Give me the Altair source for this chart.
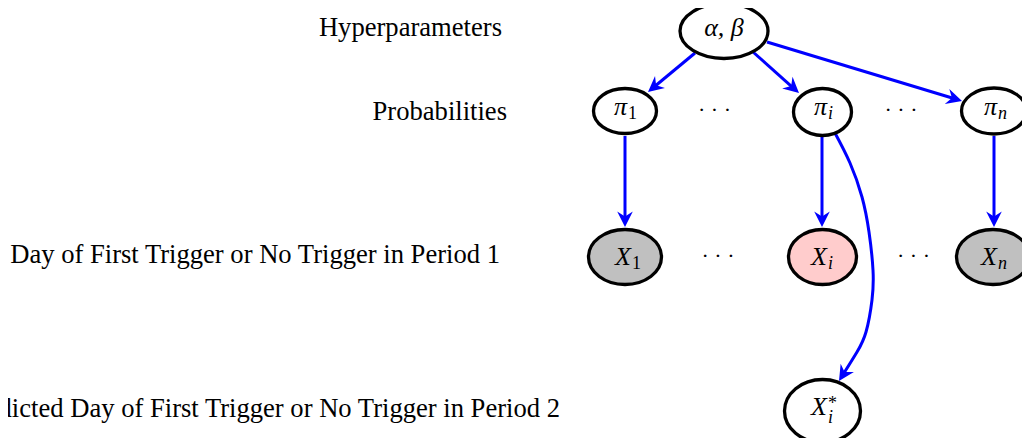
import math
import altair as alt
import pandas as pd

# ---------------- data ----------------
level_labels = [
    "Hyperparameters",
    "Probabilities",
    "Day of First Trigger or No Trigger in Period 1",
    "Predicted Day of First Trigger or No Trigger in Period 2",
]
level_right = [502, 507, 500, 560]
level_base = [36, 120, 263, 417]

node_ids = ["ab", "pi1", "pii", "pin", "X1", "Xi", "Xn", "Xis"]
node_main = ["α, β", "π", "π", "π", "X", "X", "X", "X"]
node_sub = ["", "1", "i", "n", "1", "i", "n", "i"]
node_sup = ["", "", "", "", "", "", "", "*"]
node_fill = ["white", "white", "white", "white", "#c0c0c0", "#ffcccc", "#c0c0c0", "white"]

# layout (image pixel coordinates)
node_cx = [724, 625, 822.5, 994, 625, 822.5, 993, 822.5]
node_cy = [31, 111, 112, 111, 257, 257, 257, 411]
node_rx = [44, 31.5, 29, 32.5, 36.5, 34, 36.5, 38]
node_ry = [27.5, 22.5, 23.5, 23, 27.5, 27.5, 27.5, 31.5]
text_anchor = [724, 627, 827, 997, 631, 827, 997, 827]
main_base = [36, 115, 115, 115, 265, 265, 265, 415]
sub_base = [0, 119, 119, 119, 269, 269, 269, 423]
sup_base = [0, 0, 0, 0, 0, 0, 0, 409]

dots_x = [714.5, 901, 718, 913.5]
dots_y = [111, 111, 257, 257]

edge_x0 = [695, 753, 767, 625, 822, 994]
edge_y0 = [53, 52, 42, 136, 137, 136]
edge_tx = [648, 799, 962, 625, 822, 994]
edge_ty = [92, 93, 101, 227, 227, 227]

curve_x = [835, 850, 862, 869, 873, 872, 866, 857, 844]
curve_y = [133, 163, 197, 232, 270, 300, 332, 352, 373]
curve_tip = (839, 381)

BLUE = "#0000ff"
FONT = "Liberation Serif, Times New Roman, Times, serif"
HEAD = "M0,0L1,2L0,1.35L-1,2Z"
HEAD_UNIT = 7.8
HEAD_SIZE = (2 * HEAD_UNIT) ** 2

xs = alt.Scale(domain=[8, 1022], zero=False, nice=False)
ys = alt.Scale(domain=[8, 438], zero=False, nice=False, reverse=True)


def X(f):
    return alt.X(f, type="quantitative", scale=xs, axis=None)


def Y(f):
    return alt.Y(f, type="quantitative", scale=ys, axis=None)


# ---------------- frames ----------------
K = 0.5523


def ellipse_path(k):
    a, b = K, k * K
    return (f"M-1,0C-1,{-b:.4f} {-a:.4f},{-k:.4f} 0,{-k:.4f}"
            f"C{a:.4f},{-k:.4f} 1,{-b:.4f} 1,0"
            f"C1,{b:.4f} {a:.4f},{k:.4f} 0,{k:.4f}"
            f"C{-a:.4f},{k:.4f} -1,{b:.4f} -1,0Z")


nodes = pd.DataFrame({
    "id": node_ids, "main": node_main, "sub": node_sub, "sup": node_sup,
    "fill": node_fill, "cx": node_cx, "cy": node_cy, "rx": node_rx, "ry": node_ry,
    "ax": text_anchor, "mb": main_base, "sb": sub_base, "pb": sup_base,
})
nodes["shape"] = [ellipse_path(ry / rx) for rx, ry in zip(node_rx, node_ry)]
nodes["size"] = [(2 * rx) ** 2 for rx in node_rx]

levels = pd.DataFrame({"label": level_labels, "x": level_right, "y": level_base})

edges = pd.DataFrame({"x0": edge_x0, "y0": edge_y0, "tx": edge_tx, "ty": edge_ty})
heads = []
ex1, ey1 = [], []
for x0, y0, tx, ty in zip(edge_x0, edge_y0, edge_tx, edge_ty):
    dx, dy = tx - x0, ty - y0
    L = math.hypot(dx, dy)
    ux, uy = dx / L, dy / L
    ex1.append(tx - ux * HEAD_UNIT * 1.2)
    ey1.append(ty - uy * HEAD_UNIT * 1.2)
    heads.append({"x": tx, "y": ty, "angle": (math.degrees(math.atan2(dx, -dy)) + 360) % 360})
edges["x1"] = ex1
edges["y1"] = ey1
dx, dy = curve_tip[0] - curve_x[-1], curve_tip[1] - curve_y[-1]
heads.append({"x": curve_tip[0], "y": curve_tip[1],
              "angle": (math.degrees(math.atan2(dx, -dy)) + 360) % 360})
heads = pd.DataFrame(heads)

curve = pd.DataFrame({"x": curve_x, "y": curve_y, "o": list(range(len(curve_x)))})
dots = pd.DataFrame({"x": dots_x, "y": [v + 5.5 for v in dots_y]})

# ---------------- layers ----------------
rules = alt.Chart(edges).mark_rule(color=BLUE, strokeWidth=3).encode(
    x=X("x0"), y=Y("y0"), x2="x1", y2="y1")

curve_line = alt.Chart(curve).mark_line(color=BLUE, strokeWidth=3, interpolate="natural").encode(
    x=X("x"), y=Y("y"), order="o:Q")

ellipses = alt.Chart(nodes).mark_point(
    filled=True, stroke="black", strokeWidth=3.3, opacity=1, fillOpacity=1, strokeOpacity=1
).encode(
    x=X("cx"), y=Y("cy"),
    shape=alt.Shape("shape:N", scale=None),
    size=alt.Size("size:Q", scale=None),
    fill=alt.Fill("fill:N", scale=None),
)

arrow_heads = alt.Chart(heads).mark_point(
    filled=True, shape=HEAD, size=HEAD_SIZE, color=BLUE, opacity=1
).encode(x=X("x"), y=Y("y"), angle=alt.Angle("angle:Q", scale=None))

level_text = alt.Chart(levels).mark_text(
    align="right", baseline="alphabetic", font=FONT, fontSize=26.6, color="black"
).encode(x=X("x"), y=Y("y"), text="label:N")

ab_text = alt.Chart(nodes).transform_filter("datum.sub == ''").mark_text(
    align="center", baseline="alphabetic", font=FONT, fontSize=26, fontStyle="italic", color="black"
).encode(x=X("ax"), y=Y("mb"), text="main:N")

main_text = alt.Chart(nodes).transform_filter("datum.sub != ''").mark_text(
    align="right", baseline="alphabetic", font=FONT, fontSize=26, fontStyle="italic", color="black"
).encode(x=X("ax"), y=Y("mb"), text="main:N")

sub_digit = alt.Chart(nodes).transform_filter("datum.sub == '1'").mark_text(
    align="left", baseline="alphabetic", font=FONT, fontSize=18, color="black", dx=1
).encode(x=X("ax"), y=Y("sb"), text="sub:N")

sub_letter = alt.Chart(nodes).transform_filter("datum.sub == 'i' || datum.sub == 'n'").mark_text(
    align="left", baseline="alphabetic", font=FONT, fontSize=18, fontStyle="italic", color="black", dx=1
).encode(x=X("ax"), y=Y("sb"), text="sub:N")

sup_text = alt.Chart(nodes).transform_filter("datum.sup != ''").mark_text(
    align="left", baseline="alphabetic", font=FONT, fontSize=18, color="black", dx=1
).encode(x=X("ax"), y=Y("pb"), text="sup:N")

dot_text = alt.Chart(dots).mark_text(
    align="center", baseline="alphabetic", font=FONT, fontSize=22, color="black"
).encode(x=X("x"), y=Y("y"), text=alt.value("· · ·"))

chart = alt.layer(
    rules, curve_line, ellipses, arrow_heads, level_text, ab_text, main_text,
    sub_digit, sub_letter, sup_text, dot_text,
).properties(
    width=1014, height=430, padding=0,
    autosize=alt.AutoSizeParams(type="none"),
    background="white",
).configure_view(stroke=None)

chart.save("out.html", embed_options={"renderer": "svg", "actions": False})
